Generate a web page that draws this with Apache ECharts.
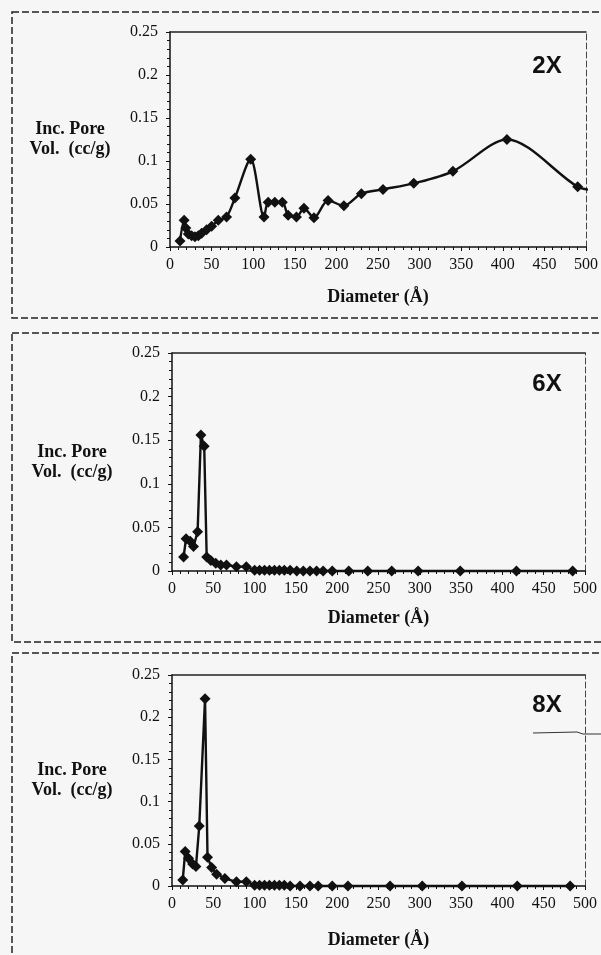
<!DOCTYPE html>
<html>
<head>
<meta charset="utf-8">
<title>Inc. Pore Volume</title>
<script src="https://cdn.jsdelivr.net/npm/echarts@6/dist/echarts.min.js"></script>
<style>
    html, body { margin: 0; padding: 0; background: #f6f6f6; }
    #chart_pore { width: 601px; height: 955px; }
</style>
</head>
<body>
<div id="chart_pore"></div>
<script>
    // tick labels
    var xTicks = [0, 50, 100, 150, 200, 250, 300, 350, 400, 450, 500];
    var yTicks = [0, 0.05, 0.1, 0.15, 0.2, 0.25];
    var panelNames = ['2X', '6X', '8X'];

    // 2X
    var dia2x = [12, 17, 19, 22, 26, 30, 34, 38, 44, 50, 58, 68, 78, 97, 113, 118, 126, 135, 142, 152, 161, 173, 190, 209, 230, 256, 293, 340, 405, 490, 510];
    var vol2x = [0.007, 0.031, 0.022, 0.015, 0.013, 0.012, 0.013, 0.016, 0.020, 0.024, 0.031, 0.035, 0.057, 0.102, 0.035, 0.052, 0.052, 0.052, 0.037, 0.035, 0.045, 0.034, 0.054, 0.048, 0.062, 0.067, 0.074, 0.088, 0.125, 0.070, 0.066];

    // 6X
    var dia6x = [14, 17, 22, 26, 31, 35, 39, 42, 47, 53, 59, 66, 78, 90, 100, 106, 112, 118, 124, 130, 136, 143, 151, 159, 167, 175, 183, 194, 214, 237, 266, 298, 349, 417, 485];
    var vol6x = [0.016, 0.037, 0.034, 0.028, 0.045, 0.156, 0.143, 0.016, 0.012, 0.009, 0.007, 0.007, 0.005, 0.005, 0.001, 0.001, 0.001, 0.001, 0.001, 0.001, 0.001, 0.001, 0, 0, 0, 0, 0, 0, 0, 0, 0, 0, 0, 0, 0];

    // 8X
    var dia8x = [13, 16, 20, 25, 29, 33, 40, 43, 48, 54, 64, 78, 90, 100, 106, 112, 118, 124, 130, 136, 143, 155, 167, 177, 194, 213, 264, 303, 351, 418, 482];
    var vol8x = [0.007, 0.041, 0.033, 0.026, 0.023, 0.071, 0.222, 0.034, 0.022, 0.014, 0.009, 0.005, 0.005, 0.001, 0.001, 0.001, 0.001, 0.001, 0.001, 0.001, 0, 0, 0, 0, 0, 0, 0, 0, 0, 0, 0];

    var serif = 'Liberation Serif';

    // plot boxes: left, top, width, height, x title gap
    var boxes = [
        {left: 170, top: 32, width: 416, height: 215, gap: 50},
        {left: 172, top: 353, width: 413, height: 218, gap: 47},
        {left: 172, top: 675, width: 413, height: 211, gap: 54}
    ];

    function pairs(xs, ys) {
        return xs.map(function (x, i) { return [x, ys[i]]; });
    }

    var grids = [], xAxes = [], yAxes = [], series = [];
    var datasets = [pairs(dia2x, vol2x), pairs(dia6x, vol6x), pairs(dia8x, vol8x)];

    boxes.forEach(function (b, i) {
        grids.push({left: b.left, top: b.top, width: b.width, height: b.height, containLabel: false});
        xAxes.push({
            type: 'value', gridIndex: i, position: 'bottom',
            min: xTicks[0], max: xTicks[xTicks.length - 1], interval: xTicks[1] - xTicks[0],
            name: 'Diameter (Å)', nameLocation: 'middle', nameGap: b.gap,
            nameTextStyle: {fontFamily: serif, fontWeight: 'bold', fontSize: 18, color: '#111', verticalAlign: 'middle'},
            axisLine: {show: true, onZero: false, lineStyle: {color: '#111', width: 1.5}},
            axisTick: {show: true, inside: false, length: 4, lineStyle: {color: '#111'}},
            minorTick: {show: true, splitNumber: 5, length: 3, lineStyle: {color: '#111'}},
            axisLabel: {fontFamily: serif, fontSize: 16, color: '#111', margin: 10},
            splitLine: {show: false}
        });
        xAxes.push({
            type: 'value', gridIndex: i, position: 'top',
            min: xTicks[0], max: xTicks[xTicks.length - 1],
            axisLine: {show: true, onZero: false, lineStyle: {color: '#222', width: 1.5}},
            axisTick: {show: false}, axisLabel: {show: false}, splitLine: {show: false}
        });
        yAxes.push({
            type: 'value', gridIndex: i, position: 'left',
            min: yTicks[0], max: yTicks[yTicks.length - 1], interval: yTicks[1] - yTicks[0],
            name: 'Inc. Pore\nVol.  (cc/g)', nameLocation: 'middle', nameRotate: 0, nameGap: 100,
            nameTextStyle: {fontFamily: serif, fontWeight: 'bold', fontSize: 18, lineHeight: 20, color: '#111', align: 'center', verticalAlign: 'middle'},
            axisLine: {show: true, onZero: false, lineStyle: {color: '#111', width: 1.5}},
            axisTick: {show: true, inside: false, length: 4, lineStyle: {color: '#111'}},
            minorTick: {show: true, splitNumber: 5, length: 3, lineStyle: {color: '#111'}},
            axisLabel: {fontFamily: serif, fontSize: 16, color: '#111', margin: 12},
            splitLine: {show: false}
        });
        yAxes.push({
            type: 'value', gridIndex: i, position: 'right',
            min: yTicks[0], max: yTicks[yTicks.length - 1],
            axisLine: {show: true, onZero: false, lineStyle: {color: '#444', width: 1, type: [6, 3]}},
            axisTick: {show: false}, axisLabel: {show: false}, splitLine: {show: false}
        });

        var data = datasets[i].map(function (p, j) {
            // the 2X curve runs a little past the last marker
            if (i === 0 && j === datasets[i].length - 1) {
                return {value: p, symbol: 'none'};
            }
            return p;
        });
        series.push({
            type: 'line',
            xAxisIndex: i * 2, yAxisIndex: i * 2,
            data: data,
            smooth: i === 0 ? 0.3 : false,
            clip: false,
            symbol: 'diamond', symbolSize: 11,
            lineStyle: {color: '#111', width: 2.4},
            itemStyle: {color: '#111'},
            z: 5
        });
    });

    var frames = [
        {y: 12, h: 306},
        {y: 333, h: 309},
        {y: 653, h: 310}
    ];
    var graphics = frames.map(function (f) {
        return {
            type: 'rect', silent: true,
            shape: {x: 12, y: f.y, width: 600, height: f.h},
            style: {fill: null, stroke: '#222', lineWidth: 1.5, lineDash: [7, 3]}
        };
    });
    boxes.forEach(function (b, i) {
        graphics.push({
            type: 'text', silent: true,
            x: 547, y: [66, 384, 705][i],
            style: {text: panelNames[i], font: 'bold 24px "Liberation Sans"', fill: '#111', align: 'center', verticalAlign: 'middle'}
        });
    });
    // scan mark beside 8X
    graphics.push({
        type: 'polyline', silent: true,
        shape: {points: [[533, 733], [577, 732], [583, 734], [601, 734]]},
        style: {stroke: '#333', lineWidth: 1, fill: null}
    });

    var myChart = echarts.init(document.getElementById('chart_pore'), null, {renderer: 'canvas'});
    myChart.setOption({
        backgroundColor: '#f6f6f6',
        animation: false,
        grid: grids,
        xAxis: xAxes,
        yAxis: yAxes,
        series: series,
        graphic: graphics
    });
</script>
</body>
</html>
